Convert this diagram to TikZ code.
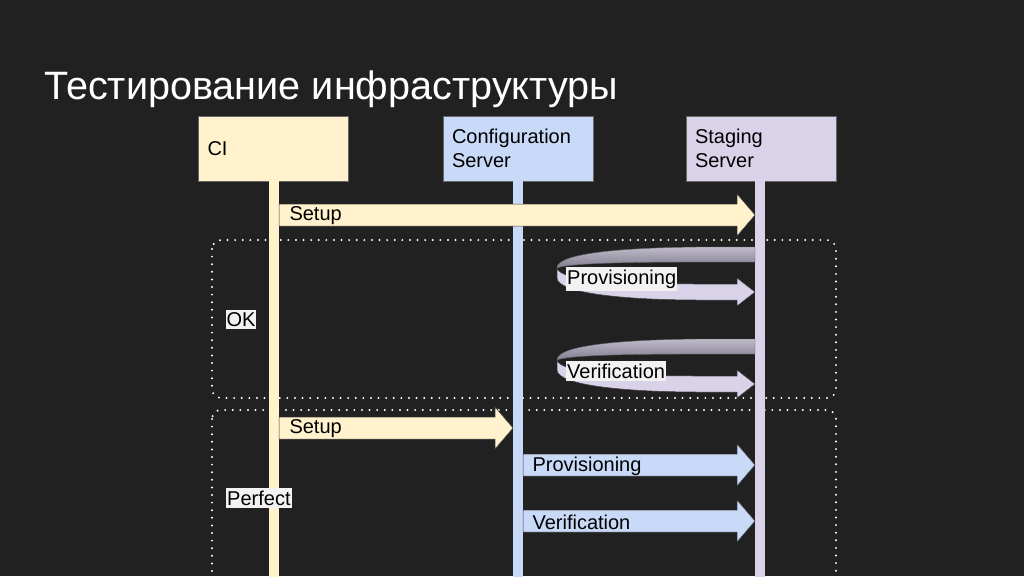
\documentclass[tikz,border=0pt]{standalone}
\usepackage{fontspec}
\setmainfont{Liberation Sans}
\usetikzlibrary{positioning,calc}

\definecolor{slidebg}{RGB}{33,33,33}
\definecolor{ciyellow}{HTML}{FFF2CC}
\definecolor{cfgblue}{HTML}{C9DAF8}
\definecolor{stgpurple}{HTML}{D9D2E9}
\definecolor{backband}{HTML}{A39DB3}
\definecolor{lblwhite}{HTML}{F2F2F2}

% block arrow between two lifelines: [style]{y}{from}{to}
\newcommand\blockarrow[4][]{%
  \filldraw[msg,#1] let \p1=(#3.east |- 0,#2), \p2=(#4.west |- 0,#2) in
    (\x1,\y1+11pt) -- (\x2-18pt,\y1+11pt) -- (\x2-18pt,\y1+21pt) -- (\x2,\y1)
    -- (\x2-18pt,\y1-21pt) -- (\x2-18pt,\y1-11pt) -- (\x1,\y1-11pt) -- cycle;}

\begin{document}
\begin{tikzpicture}[x=1pt, y=-1pt,
    actor/.style={draw=black!60, line width=0.5pt, minimum width=150pt, minimum height=65pt,
      text width=132pt, inner xsep=9pt, align=left, outer sep=0pt,
      font=\fontsize{20}{24}\selectfont},
    lifeline/.style={minimum width=10pt, minimum height=420pt, inner sep=0pt, outer sep=0pt},
    msg/.style={draw=black!75, line width=0.5pt},
    msgtext/.style={anchor=west, font=\fontsize{20}{20}\selectfont},
    lbl/.style={fill=lblwhite, text=black, inner xsep=1pt, inner ysep=2.5pt, font=\fontsize{20}{20}\selectfont},
    frame/.style={draw=white, line width=2.2pt, dash pattern=on 0pt off 7.6pt, line cap=round, rounded corners=9pt}]

    \useasboundingbox (0,0) rectangle (1024,576);
    \clip (0,0) rectangle (1024,576);
    \fill[slidebg] (0,0) rectangle (1024,576);

    \node[anchor=base west, inner sep=0pt, text=white, font=\fontsize{39.6}{40}\selectfont] (title) at (44,99) {Тестирование инфраструктуры};

    % рамки
    \draw[frame] (212,240) rectangle (836,398);
    \draw[frame] (212,410) rectangle (836,620);

    % участники
    \node[actor, fill=ciyellow] (ci) at (273.5,148.5) {CI};
    \node[actor, fill=cfgblue] (cfg) at (518,148.5) {Configuration\\Server};
    \node[actor, fill=stgpurple] (stg) at (761,148.5) {Staging\\Server};

    \node[lifeline, fill=ciyellow, anchor=north] (ciline) at (274,181) {};
    \node[lifeline, fill=cfgblue, anchor=north] (cfgline) at (518,181) {};
    \node[lifeline, fill=stgpurple, anchor=north] (stgline) at (760,181) {};

    % OK
    \blockarrow[fill=ciyellow]{215}{ciline}{stgline}
    \node[msgtext] (setup1) at (286,216) {Setup};

    \foreach \dy/\txt/\nm in {0/Provisioning/prov1, 92/Verification/ver1}{
      \begin{scope}[shift={(0,\dy)}]
        \shade[top color=backband!70!white, bottom color=backband!80!black, draw=black!60, line width=0.4pt]
          (755,247) -- (700,247) .. controls (600,248) and (557,256) .. (557,268)
          .. controls (566,264) and (610,262) .. (700,262) -- (755,262) -- cycle;
        \filldraw[msg, fill=stgpurple]
          (557,268) -- (557,278) .. controls (558,294) and (630,300) .. (700,300) -- (737,300)
          -- (737,306) -- (755,292) -- (737,278) -- (737,284) -- (700,284)
          .. controls (630,284) and (560,282) .. (557,268) -- cycle;
        \node[lbl, anchor=west] (\nm) at (566,279) {\txt};
      \end{scope}
    }
    \node[lbl] (ok) at (241,319.5) {OK};

    % Perfect
    \blockarrow[fill=ciyellow]{428}{ciline}{cfgline}
    \node[msgtext] (setup2) at (286,429) {Setup};
    \blockarrow[fill=cfgblue]{465}{cfgline}{stgline}
    \node[msgtext] (prov2) at (529,466) {Provisioning};
    \blockarrow[fill=cfgblue]{521}{cfgline}{stgline}
    \node[msgtext] (ver2) at (529,522) {Verification};
    \node[lbl, anchor=west] (perfect) at (226,498) {Perfect};
\end{tikzpicture}
\end{document}
